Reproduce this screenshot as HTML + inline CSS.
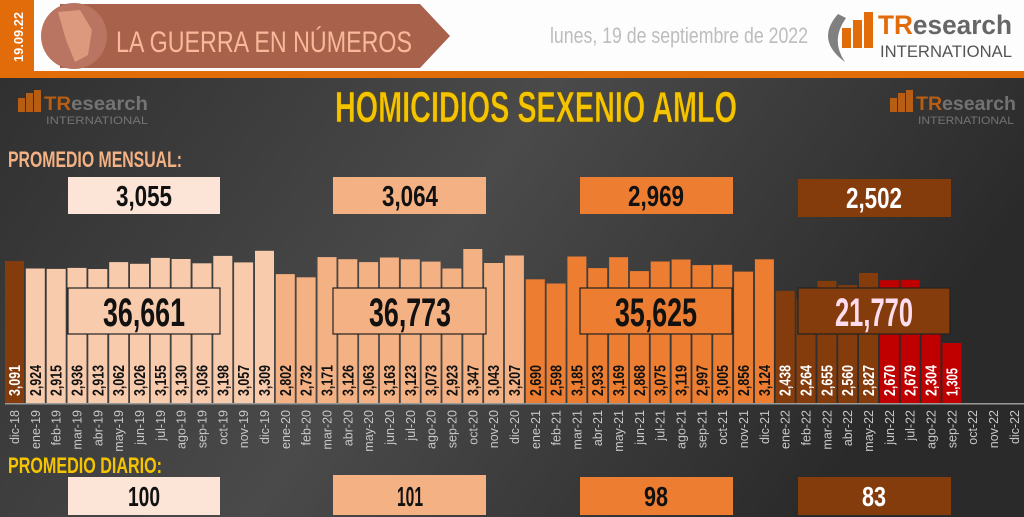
<!DOCTYPE html>
<html><head><meta charset="utf-8"><style>
html,body{margin:0;padding:0;background:#fff}
svg{display:block}
.n{font-family:"Liberation Sans Narrow","Liberation Sans",sans-serif;font-weight:bold}
.v{font-family:"Liberation Sans Narrow","Liberation Sans",sans-serif;font-weight:bold;font-size:16px}
.m{font-family:"Liberation Sans",sans-serif;font-size:12.5px;fill:#c8c8c8}
</style></head><body>
<svg width="1024" height="517" viewBox="0 0 1024 517" xmlns="http://www.w3.org/2000/svg">
<defs>
<linearGradient id="bg" x1="0" y1="0" x2="1" y2="0.3">
<stop offset="0" stop-color="#303030"/><stop offset="0.5" stop-color="#4a4a4a"/><stop offset="1" stop-color="#2a2a2a"/>
</linearGradient>
</defs>
<rect x="0" y="0" width="1024" height="71" fill="#fdfdfd"/>
<rect x="0" y="0" width="34" height="71" fill="#e36c0a"/>
<text class="n" transform="translate(23,62) rotate(-90)" font-size="13" fill="#fff" textLength="50" lengthAdjust="spacingAndGlyphs">19.09.22</text>
<polygon points="60,4 420,4 450,36 420,68 60,68" fill="#a8614a"/>
<circle cx="74" cy="36" r="33" fill="#b97561"/>
<path d="M58,12 L80,10 L92,30 L88,55 L75,62 L66,40 Z" fill="#eca88a" opacity="0.7"/>
<text x="116" y="52" font-family="Liberation Sans, sans-serif" font-size="30" fill="#f9b89a" textLength="296" lengthAdjust="spacingAndGlyphs">LA GUERRA EN NÚMEROS</text>
<text x="550" y="43" font-family="Liberation Sans, sans-serif" font-size="22" fill="#bdbdbd" textLength="258" lengthAdjust="spacingAndGlyphs">lunes, 19 de septiembre de 2022</text>
<path d="M838,14 Q815,40 845,62 Q830,40 846,18 Z" fill="#808080"/>
<rect x="842" y="28" width="9" height="20" fill="#e36c0a"/><rect x="853" y="20" width="9" height="28" fill="#e36c0a"/><rect x="864" y="12" width="9" height="36" fill="#e36c0a"/>
<text x="878" y="34" font-family="Liberation Sans, sans-serif" font-weight="bold" font-size="27" fill="#e36c0a" textLength="134" lengthAdjust="spacingAndGlyphs">TR<tspan fill="#666">esearch</tspan></text>
<text x="880" y="57" font-family="Liberation Sans, sans-serif" font-size="17" fill="#555" textLength="132" lengthAdjust="spacingAndGlyphs">INTERNATIONAL</text>
<rect x="0" y="71" width="1024" height="7" fill="#e36c0a"/>
<rect x="0" y="78" width="1024" height="439" fill="url(#bg)"/>
<g opacity="0.75">
<rect x="18" y="98" width="7" height="14" fill="#e36c0a"/><rect x="26" y="93" width="7" height="19" fill="#e36c0a"/><rect x="34" y="90" width="7" height="22" fill="#e36c0a"/>
<text x="44" y="110" font-family="Liberation Sans, sans-serif" font-weight="bold" font-size="19" fill="#e36c0a" textLength="104" lengthAdjust="spacingAndGlyphs">TR<tspan fill="#888">esearch</tspan></text>
<text x="46" y="124" font-family="Liberation Sans, sans-serif" font-size="11" fill="#888" textLength="102" lengthAdjust="spacingAndGlyphs">INTERNATIONAL</text>
<rect x="890" y="98" width="7" height="14" fill="#e36c0a"/><rect x="898" y="93" width="7" height="19" fill="#e36c0a"/><rect x="906" y="90" width="7" height="22" fill="#e36c0a"/>
<text x="916" y="110" font-family="Liberation Sans, sans-serif" font-weight="bold" font-size="19" fill="#e36c0a" textLength="100" lengthAdjust="spacingAndGlyphs">TR<tspan fill="#888">esearch</tspan></text>
<text x="918" y="124" font-family="Liberation Sans, sans-serif" font-size="11" fill="#888" textLength="96" lengthAdjust="spacingAndGlyphs">INTERNATIONAL</text>
</g>
<text class="n" x="335" y="122" font-size="44" fill="#f5c400" textLength="402" lengthAdjust="spacingAndGlyphs" stroke="#6a5000" stroke-width="0.5">HOMICIDIOS SEXENIO AMLO</text>
<text class="n" x="8" y="167" font-size="22" fill="#f4b183" textLength="174" lengthAdjust="spacingAndGlyphs">PROMEDIO MENSUAL:</text>
<rect x="68" y="177" width="152" height="37" fill="#fce4d6"/>
<text class="n" x="144" y="206" font-size="29" text-anchor="middle" fill="#111" textLength="56" lengthAdjust="spacingAndGlyphs">3,055</text>
<rect x="333" y="177" width="153" height="37" fill="#f4b183"/>
<text class="n" x="410" y="206" font-size="29" text-anchor="middle" fill="#111" textLength="56" lengthAdjust="spacingAndGlyphs">3,064</text>
<rect x="580" y="177" width="153" height="37" fill="#ed7d31"/>
<text class="n" x="656" y="206" font-size="29" text-anchor="middle" fill="#111" textLength="56" lengthAdjust="spacingAndGlyphs">2,969</text>
<rect x="798" y="179" width="153" height="38" fill="#843c0c"/>
<text class="n" x="874" y="208" font-size="29" text-anchor="middle" fill="#fff" textLength="56" lengthAdjust="spacingAndGlyphs">2,502</text>
<g>
<rect x="5" y="261" width="19" height="142" fill="#843c0c"/>
<rect x="25.8" y="268.5" width="19" height="134.5" fill="#f8cbad"/>
<rect x="46.7" y="268.9" width="19" height="134.1" fill="#f8cbad"/>
<rect x="67.5" y="267.9" width="19" height="135.1" fill="#f8cbad"/>
<rect x="88.3" y="269" width="19" height="134" fill="#f8cbad"/>
<rect x="109.2" y="262.1" width="19" height="140.9" fill="#f8cbad"/>
<rect x="130" y="263.8" width="19" height="139.2" fill="#f8cbad"/>
<rect x="150.8" y="257.9" width="19" height="145.1" fill="#f8cbad"/>
<rect x="171.6" y="259" width="19" height="144" fill="#f8cbad"/>
<rect x="192.5" y="263.3" width="19" height="139.7" fill="#f8cbad"/>
<rect x="213.3" y="255.9" width="19" height="147.1" fill="#f8cbad"/>
<rect x="234.1" y="262.4" width="19" height="140.6" fill="#f8cbad"/>
<rect x="255" y="250.8" width="19" height="152.2" fill="#f8cbad"/>
<rect x="275.8" y="274.1" width="19" height="128.9" fill="#f4b183"/>
<rect x="296.6" y="277.3" width="19" height="125.7" fill="#f4b183"/>
<rect x="317.5" y="257.1" width="19" height="145.9" fill="#f4b183"/>
<rect x="338.3" y="259.2" width="19" height="143.8" fill="#f4b183"/>
<rect x="359.1" y="262.1" width="19" height="140.9" fill="#f4b183"/>
<rect x="379.9" y="257.5" width="19" height="145.5" fill="#f4b183"/>
<rect x="400.8" y="259.3" width="19" height="143.7" fill="#f4b183"/>
<rect x="421.6" y="261.6" width="19" height="141.4" fill="#f4b183"/>
<rect x="442.4" y="268.5" width="19" height="134.5" fill="#f4b183"/>
<rect x="463.3" y="249" width="19" height="154" fill="#f4b183"/>
<rect x="484.1" y="263" width="19" height="140" fill="#f4b183"/>
<rect x="504.9" y="255.5" width="19" height="147.5" fill="#f4b183"/>
<rect x="525.8" y="279.3" width="19" height="123.7" fill="#ed7d31"/>
<rect x="546.6" y="283.5" width="19" height="119.5" fill="#ed7d31"/>
<rect x="567.4" y="256.5" width="19" height="146.5" fill="#ed7d31"/>
<rect x="588.2" y="268.1" width="19" height="134.9" fill="#ed7d31"/>
<rect x="609.1" y="257.2" width="19" height="145.8" fill="#ed7d31"/>
<rect x="629.9" y="271.1" width="19" height="131.9" fill="#ed7d31"/>
<rect x="650.7" y="261.5" width="19" height="141.5" fill="#ed7d31"/>
<rect x="671.6" y="259.5" width="19" height="143.5" fill="#ed7d31"/>
<rect x="692.4" y="265.1" width="19" height="137.9" fill="#ed7d31"/>
<rect x="713.2" y="264.8" width="19" height="138.2" fill="#ed7d31"/>
<rect x="734.1" y="271.6" width="19" height="131.4" fill="#ed7d31"/>
<rect x="754.9" y="259.3" width="19" height="143.7" fill="#ed7d31"/>
<rect x="775.7" y="290.9" width="19" height="112.1" fill="#843c0c"/>
<rect x="796.5" y="298.9" width="19" height="104.1" fill="#843c0c"/>
<rect x="817.4" y="280.9" width="19" height="122.1" fill="#843c0c"/>
<rect x="838.2" y="285.2" width="19" height="117.8" fill="#843c0c"/>
<rect x="859" y="273" width="19" height="130" fill="#843c0c"/>
<rect x="879.9" y="280.2" width="19" height="122.8" fill="#c00000"/>
<rect x="900.7" y="279.8" width="19" height="123.2" fill="#c00000"/>
<rect x="921.5" y="297" width="19" height="106" fill="#c00000"/>
<rect x="942.4" y="343" width="19" height="60" fill="#c00000"/>
</g>
<rect x="5" y="403" width="1019" height="1.5" fill="#9a9a9a"/>
<rect x="68" y="288" width="152" height="46" fill="#f8cbad" stroke="#222" stroke-width="1.2"/>
<text class="n" x="144" y="326" font-size="40" text-anchor="middle" fill="#111" textLength="82" lengthAdjust="spacingAndGlyphs">36,661</text>
<rect x="333" y="288" width="153" height="46" fill="#f4b183" stroke="#222" stroke-width="1.2"/>
<text class="n" x="410" y="326" font-size="40" text-anchor="middle" fill="#111" textLength="82" lengthAdjust="spacingAndGlyphs">36,773</text>
<rect x="580" y="288" width="152" height="46" fill="#ed7d31" stroke="#222" stroke-width="1.2"/>
<text class="n" x="656" y="326" font-size="40" text-anchor="middle" fill="#111" textLength="82" lengthAdjust="spacingAndGlyphs">35,625</text>
<rect x="798" y="288" width="152" height="46" fill="#843c0c" stroke="#222" stroke-width="1.2"/>
<text class="n" x="874" y="326" font-size="40" text-anchor="middle" fill="#fde" textLength="78" lengthAdjust="spacingAndGlyphs">21,770</text>
<g class="v" fill="#111">
<text transform="translate(20,396) rotate(-90)" fill="#fff" textLength="31" lengthAdjust="spacingAndGlyphs">3,091</text>
<text transform="translate(40.8,396) rotate(-90)" textLength="31" lengthAdjust="spacingAndGlyphs">2,924</text>
<text transform="translate(61.7,396) rotate(-90)" textLength="31" lengthAdjust="spacingAndGlyphs">2,915</text>
<text transform="translate(82.5,396) rotate(-90)" textLength="31" lengthAdjust="spacingAndGlyphs">2,936</text>
<text transform="translate(103.3,396) rotate(-90)" textLength="31" lengthAdjust="spacingAndGlyphs">2,913</text>
<text transform="translate(124.2,396) rotate(-90)" textLength="31" lengthAdjust="spacingAndGlyphs">3,062</text>
<text transform="translate(145,396) rotate(-90)" textLength="31" lengthAdjust="spacingAndGlyphs">3,026</text>
<text transform="translate(165.8,396) rotate(-90)" textLength="31" lengthAdjust="spacingAndGlyphs">3,155</text>
<text transform="translate(186.6,396) rotate(-90)" textLength="31" lengthAdjust="spacingAndGlyphs">3,130</text>
<text transform="translate(207.5,396) rotate(-90)" textLength="31" lengthAdjust="spacingAndGlyphs">3,036</text>
<text transform="translate(228.3,396) rotate(-90)" textLength="31" lengthAdjust="spacingAndGlyphs">3,198</text>
<text transform="translate(249.1,396) rotate(-90)" textLength="31" lengthAdjust="spacingAndGlyphs">3,057</text>
<text transform="translate(270,396) rotate(-90)" textLength="31" lengthAdjust="spacingAndGlyphs">3,309</text>
<text transform="translate(290.8,396) rotate(-90)" textLength="31" lengthAdjust="spacingAndGlyphs">2,802</text>
<text transform="translate(311.6,396) rotate(-90)" textLength="31" lengthAdjust="spacingAndGlyphs">2,732</text>
<text transform="translate(332.5,396) rotate(-90)" textLength="31" lengthAdjust="spacingAndGlyphs">3,171</text>
<text transform="translate(353.3,396) rotate(-90)" textLength="31" lengthAdjust="spacingAndGlyphs">3,126</text>
<text transform="translate(374.1,396) rotate(-90)" textLength="31" lengthAdjust="spacingAndGlyphs">3,063</text>
<text transform="translate(394.9,396) rotate(-90)" textLength="31" lengthAdjust="spacingAndGlyphs">3,163</text>
<text transform="translate(415.8,396) rotate(-90)" textLength="31" lengthAdjust="spacingAndGlyphs">3,123</text>
<text transform="translate(436.6,396) rotate(-90)" textLength="31" lengthAdjust="spacingAndGlyphs">3,073</text>
<text transform="translate(457.4,396) rotate(-90)" textLength="31" lengthAdjust="spacingAndGlyphs">2,923</text>
<text transform="translate(478.3,396) rotate(-90)" textLength="31" lengthAdjust="spacingAndGlyphs">3,347</text>
<text transform="translate(499.1,396) rotate(-90)" textLength="31" lengthAdjust="spacingAndGlyphs">3,043</text>
<text transform="translate(519.9,396) rotate(-90)" textLength="31" lengthAdjust="spacingAndGlyphs">3,207</text>
<text transform="translate(540.8,396) rotate(-90)" textLength="31" lengthAdjust="spacingAndGlyphs">2,690</text>
<text transform="translate(561.6,396) rotate(-90)" textLength="31" lengthAdjust="spacingAndGlyphs">2,598</text>
<text transform="translate(582.4,396) rotate(-90)" textLength="31" lengthAdjust="spacingAndGlyphs">3,185</text>
<text transform="translate(603.2,396) rotate(-90)" textLength="31" lengthAdjust="spacingAndGlyphs">2,933</text>
<text transform="translate(624.1,396) rotate(-90)" textLength="31" lengthAdjust="spacingAndGlyphs">3,169</text>
<text transform="translate(644.9,396) rotate(-90)" textLength="31" lengthAdjust="spacingAndGlyphs">2,868</text>
<text transform="translate(665.7,396) rotate(-90)" textLength="31" lengthAdjust="spacingAndGlyphs">3,075</text>
<text transform="translate(686.6,396) rotate(-90)" textLength="31" lengthAdjust="spacingAndGlyphs">3,119</text>
<text transform="translate(707.4,396) rotate(-90)" textLength="31" lengthAdjust="spacingAndGlyphs">2,997</text>
<text transform="translate(728.2,396) rotate(-90)" textLength="31" lengthAdjust="spacingAndGlyphs">3,005</text>
<text transform="translate(749.1,396) rotate(-90)" textLength="31" lengthAdjust="spacingAndGlyphs">2,856</text>
<text transform="translate(769.9,396) rotate(-90)" textLength="31" lengthAdjust="spacingAndGlyphs">3,124</text>
<g fill="#fff">
<text transform="translate(790.7,396) rotate(-90)" textLength="31" lengthAdjust="spacingAndGlyphs">2,438</text>
<text transform="translate(811.5,396) rotate(-90)" textLength="31" lengthAdjust="spacingAndGlyphs">2,264</text>
<text transform="translate(832.4,396) rotate(-90)" textLength="31" lengthAdjust="spacingAndGlyphs">2,655</text>
<text transform="translate(853.2,396) rotate(-90)" textLength="31" lengthAdjust="spacingAndGlyphs">2,560</text>
<text transform="translate(874,396) rotate(-90)" textLength="31" lengthAdjust="spacingAndGlyphs">2,827</text>
<text transform="translate(894.9,396) rotate(-90)" textLength="31" lengthAdjust="spacingAndGlyphs">2,670</text>
<text transform="translate(915.7,396) rotate(-90)" textLength="31" lengthAdjust="spacingAndGlyphs">2,679</text>
<text transform="translate(936.5,396) rotate(-90)" textLength="31" lengthAdjust="spacingAndGlyphs">2,304</text>
<text transform="translate(957.4,396) rotate(-90)" textLength="28" lengthAdjust="spacingAndGlyphs">1,305</text>
</g>
</g>
<g class="m" text-anchor="end">
<text transform="translate(19,410) rotate(-90)">dic-18</text>
<text transform="translate(39.8,410) rotate(-90)">ene-19</text>
<text transform="translate(60.7,410) rotate(-90)">feb-19</text>
<text transform="translate(81.5,410) rotate(-90)">mar-19</text>
<text transform="translate(102.3,410) rotate(-90)">abr-19</text>
<text transform="translate(123.2,410) rotate(-90)">may-19</text>
<text transform="translate(144,410) rotate(-90)">jun-19</text>
<text transform="translate(164.8,410) rotate(-90)">jul-19</text>
<text transform="translate(185.6,410) rotate(-90)">ago-19</text>
<text transform="translate(206.5,410) rotate(-90)">sep-19</text>
<text transform="translate(227.3,410) rotate(-90)">oct-19</text>
<text transform="translate(248.1,410) rotate(-90)">nov-19</text>
<text transform="translate(269,410) rotate(-90)">dic-19</text>
<text transform="translate(289.8,410) rotate(-90)">ene-20</text>
<text transform="translate(310.6,410) rotate(-90)">feb-20</text>
<text transform="translate(331.5,410) rotate(-90)">mar-20</text>
<text transform="translate(352.3,410) rotate(-90)">abr-20</text>
<text transform="translate(373.1,410) rotate(-90)">may-20</text>
<text transform="translate(393.9,410) rotate(-90)">jun-20</text>
<text transform="translate(414.8,410) rotate(-90)">jul-20</text>
<text transform="translate(435.6,410) rotate(-90)">ago-20</text>
<text transform="translate(456.4,410) rotate(-90)">sep-20</text>
<text transform="translate(477.3,410) rotate(-90)">oct-20</text>
<text transform="translate(498.1,410) rotate(-90)">nov-20</text>
<text transform="translate(518.9,410) rotate(-90)">dic-20</text>
<text transform="translate(539.8,410) rotate(-90)">ene-21</text>
<text transform="translate(560.6,410) rotate(-90)">feb-21</text>
<text transform="translate(581.4,410) rotate(-90)">mar-21</text>
<text transform="translate(602.2,410) rotate(-90)">abr-21</text>
<text transform="translate(623.1,410) rotate(-90)">may-21</text>
<text transform="translate(643.9,410) rotate(-90)">jun-21</text>
<text transform="translate(664.7,410) rotate(-90)">jul-21</text>
<text transform="translate(685.6,410) rotate(-90)">ago-21</text>
<text transform="translate(706.4,410) rotate(-90)">sep-21</text>
<text transform="translate(727.2,410) rotate(-90)">oct-21</text>
<text transform="translate(748.1,410) rotate(-90)">nov-21</text>
<text transform="translate(768.9,410) rotate(-90)">dic-21</text>
<text transform="translate(789.7,410) rotate(-90)">ene-22</text>
<text transform="translate(810.5,410) rotate(-90)">feb-22</text>
<text transform="translate(831.4,410) rotate(-90)">mar-22</text>
<text transform="translate(852.2,410) rotate(-90)">abr-22</text>
<text transform="translate(873,410) rotate(-90)">may-22</text>
<text transform="translate(893.9,410) rotate(-90)">jun-22</text>
<text transform="translate(914.7,410) rotate(-90)">jul-22</text>
<text transform="translate(935.5,410) rotate(-90)">ago-22</text>
<text transform="translate(956.4,410) rotate(-90)">sep-22</text>
<text transform="translate(977.2,410) rotate(-90)">oct-22</text>
<text transform="translate(998,410) rotate(-90)">nov-22</text>
<text transform="translate(1018.8,410) rotate(-90)">dic-22</text>
</g>
<text class="n" x="8" y="473" font-size="22" fill="#f5c400" textLength="154" lengthAdjust="spacingAndGlyphs">PROMEDIO DIARIO:</text>
<rect x="68" y="477" width="152" height="38" fill="#fce4d6"/>
<text class="n" x="144" y="506" font-size="28" text-anchor="middle" fill="#111" textLength="32" lengthAdjust="spacingAndGlyphs">100</text>
<rect x="333" y="475" width="153" height="40" fill="#f4b183"/>
<text class="n" x="410" y="506" font-size="28" text-anchor="middle" fill="#111" textLength="26" lengthAdjust="spacingAndGlyphs">101</text>
<rect x="580" y="477" width="153" height="38" fill="#ed7d31"/>
<text class="n" x="656" y="506" font-size="28" text-anchor="middle" fill="#111" textLength="24" lengthAdjust="spacingAndGlyphs">98</text>
<rect x="798" y="477" width="153" height="38" fill="#843c0c"/>
<text class="n" x="874" y="506" font-size="28" text-anchor="middle" fill="#fff" textLength="24" lengthAdjust="spacingAndGlyphs">83</text>
</svg>
</body></html>
